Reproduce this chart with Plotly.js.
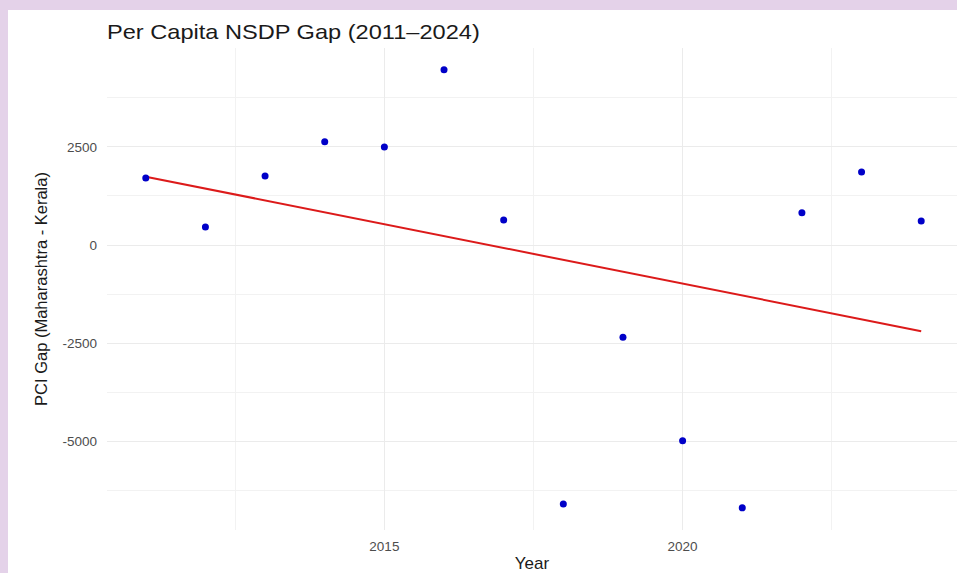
<!DOCTYPE html>
<html>
<head>
<meta charset="utf-8">
<script src="https://cdn.plot.ly/plotly-3.0.1.min.js"></script>
<style>
  html, body { margin: 0; padding: 0; width: 957px; height: 573px; overflow: hidden; background: #e4d2e9; }
  #chart { position: absolute; left: 8px; top: 10px; width: 949px; height: 563px; background: #ffffff; }
</style>
</head>
<body>
<div id="chart"></div>
<script>
// Data
const years = [2011, 2012, 2013, 2014, 2015, 2016, 2017, 2018, 2019, 2020, 2021, 2022, 2023, 2024];
const pciGap = [1710, 460, 1760, 2630, 2500, 4470, 640, -6600, -2350, -4990, -6700, 820, 1860, 610];
const xTickVals = [2015, 2020];
const xTickText = ["2015", "2020"];
const yTickVals = [-5000, -2500, 0, 2500];
const yTickText = ["-5000", "-2500", "0", "2500"];

// Linear trend (ordinary least squares), as in geom_smooth(method = "lm")
const n = years.length;
const mx = years.reduce((a, b) => a + b, 0) / n;
const my = pciGap.reduce((a, b) => a + b, 0) / n;
let sxy = 0, sxx = 0;
for (let i = 0; i < n; i++) { sxy += (years[i] - mx) * (pciGap[i] - my); sxx += (years[i] - mx) ** 2; }
const slope = sxy / sxx;
const intercept = my - slope * mx;
const fitX = [years[0], years[n - 1]];
const fitY = fitX.map(x => intercept + slope * x);

const font = "'Liberation Sans', Arial, sans-serif";

const traces = [
  {
    x: fitX, y: fitY, type: 'scatter', mode: 'lines',
    line: { color: '#dc1a1a', width: 2 }, hoverinfo: 'skip'
  },
  {
    x: years, y: pciGap, type: 'scatter', mode: 'markers',
    marker: { color: '#0000c8', size: 7 }
  }
];

const layout = {
  width: 949, height: 563,
  margin: { l: 99, r: 0, t: 38, b: 43 },
  paper_bgcolor: '#ffffff',
  plot_bgcolor: '#ffffff',
  showlegend: false,
  font: { family: font, color: '#4d4d4d', size: 13 },
  title: {
    text: 'Per Capita NSDP Gap (2011–2024)',
    font: { family: font, size: 20, color: '#1a1a1a' },
    x: 0, xref: 'paper', xanchor: 'left',
    y: 1 - 22 / 563, yref: 'container', yanchor: 'middle'
  },
  xaxis: {
    range: [2010.35, 2024.6],
    tickvals: xTickVals, ticktext: xTickText,
    showgrid: true, gridcolor: '#ebebeb', gridwidth: 1,
    minor: { tickvals: [2012.5, 2017.5, 2022.5], showgrid: true, gridcolor: '#f2f2f2', gridwidth: 1 },
    zeroline: false, showline: false, ticks: '',
    ticklabelstandoff: 6,
    tickfont: { family: font, size: 13.5, color: '#4d4d4d' },
    title: { text: 'Year', font: { family: font, size: 17, color: '#1a1a1a' }, standoff: 4 }
  },
  yaxis: {
    range: [-7265, 5022],
    tickvals: yTickVals, ticktext: yTickText,
    showgrid: true, gridcolor: '#ebebeb', gridwidth: 1,
    minor: { tickvals: [-6250, -3750, -1250, 1250, 3750], showgrid: true, gridcolor: '#f2f2f2', gridwidth: 1 },
    zeroline: false, showline: false, ticks: '',
    ticklabelstandoff: 9,
    tickfont: { family: font, size: 13.5, color: '#4d4d4d' },
    title: { text: 'PCI Gap (Maharashtra - Kerala)', font: { family: font, size: 16.5, color: '#1a1a1a' }, standoff: 10 }
  }
};

Plotly.newPlot('chart', traces, layout, { staticPlot: true, displayModeBar: false }).then(gd => {
  // the reference title text is drawn horizontally wider; widen it around its left anchor
  const t = gd.querySelector('.gtitle');
  if (t) {
    const x = parseFloat(t.getAttribute('x')) || 0;
    t.setAttribute('transform', `translate(${x},0) scale(1.18,1) translate(${-x},0)`);
  }
});
</script>
</body>
</html>
